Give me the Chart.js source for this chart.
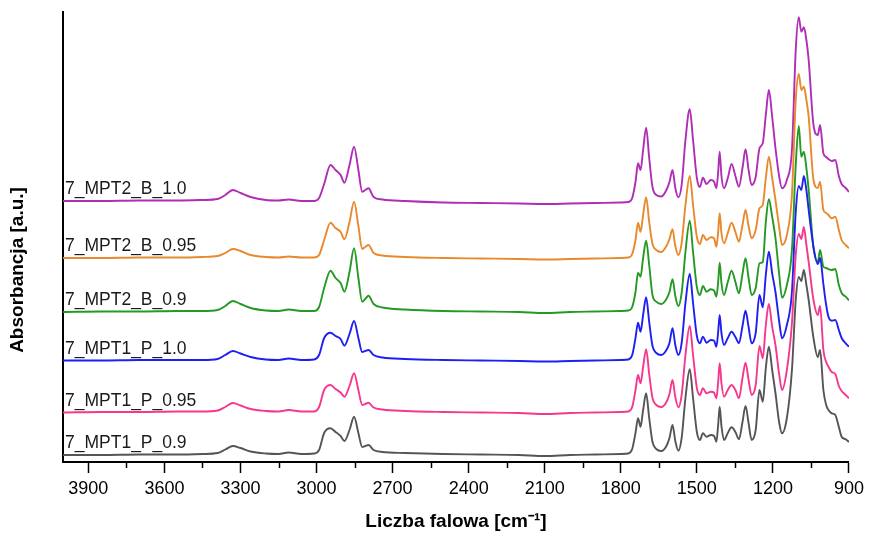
<!DOCTYPE html>
<html>
<head>
<meta charset="utf-8">
<script src="https://cdn.jsdelivr.net/npm/chart.js@4.4.1/dist/chart.umd.min.js"></script>
<style>
html,body{margin:0;padding:0;background:#fff;}
#wrap{width:869px;height:534px;}
</style>
</head>
<body>
<div id="wrap"><canvas id="c" width="869" height="534"></canvas></div>
<script>
// Wavenumber grid (cm-1) at which the spectra were read
const wavenumbers = [4000,3850,3700,3550,3450,3390,3360,3330,3300,3260,3200,3150,3110,3060,3010,2990,2970,2945,2925,2905,2890,2870,2852,2835,2820,2808,2795,2775,2740,2650,2500,2350,2200,2100,2000,1900,1800,1770,1755,1742,1732,1722,1712,1700,1688,1675,1660,1640,1620,1608,1596,1585,1573,1560,1545,1528,1515,1500,1488,1476,1462,1445,1432,1423,1416,1410,1403,1393,1378,1363,1348,1334,1320,1308,1296,1284,1268,1253,1240,1228,1216,1203,1190,1175,1164,1145,1125,1110,1098,1088,1078,1068,1059,1040,1023,1014,1001,990,981,968,954,940,929,913,900];

// Absorbance (a.u., offset-stacked) of each spectrum
const MPT2_B_10 = [261,261,261.5,261.5,262,263,267,272,269,265,262,261.5,262.5,261,261,264,278,297,292,287,279.3,297,315.3,292,270.3,272,273.7,265,262.5,261,259.5,259,258.5,258,258.5,259,259.5,260,264,280,298.7,292,312,334.3,304,275,267,265.5,272,280,292,274,264.7,277,322,352.7,322,284,275,284.3,278,282,280.3,273.7,290,310.3,286,273.7,284,298,286,275.3,294,312.7,292,277,285,313.7,319,347,372,345.3,314,285,273.7,282,312,412,444.7,430.3,434.7,422,402,337,327,337,308.7,305,303,301,302,286,278,274,270];
const MPT2_B_095 = [204,204,204.5,204.5,205,206,209,213,211,207,205,204.5,205.5,204.5,204.5,207,222,239.3,234,230,222.7,240,260.3,236,213,215,217,209,206.5,205,204,203.5,203,202.5,203,203.5,204,204.5,208,222,239.3,230.3,247,264.7,240,218,212,210,216,223,232.7,216,207,219,257,286,257,225,218,227,222,224.7,223.7,215.3,230,248.7,229,218.7,229,239.3,230,220.3,237,252,236,223.7,232,253.7,257,284,305.3,284,262,234,217,227,267,362,388,372,375.3,362,345.3,282,274,280.3,252,249,247,243.7,245.3,232,222,217,213.7];
const MPT2_B_09 = [150,150.5,150.5,151,151,152,156,161,158,154,151.5,151,152.5,151,151,155,174,191.3,184,179,170.3,190,213.7,184,160.3,163,166.3,158,154.5,152.5,151,150.5,150,149,150,150.5,151,151.5,155,170,189.3,185.3,204,221.3,197,167,160.3,158,163,170,182.7,166,156,169,210,241.3,210,175,167,176,170.3,172.7,171.3,165.3,180,199.3,179,167,180,191.3,180,168.7,188,203.7,184,167,174,198.7,200,240,262.7,245.3,224,187,164.3,177,212,297,336,305.3,310.3,294,272,214,200,212,195.3,194,193,192,193,177,169,165.3,161.5];
const MPT1_P_10 = [101.5,101.5,102,102,102,103,107,111,108.5,105,102.5,102,103.5,102,102.5,107,124,129.3,126,123,116.3,128,141,124,110,111,112,107,104.5,103,102,101.5,101,100.5,101,101.5,102,102.5,107,124,139.3,130.3,147,164.7,140,116,109,107,112,119,133.7,117,107,119,159,188,159,126,118.7,125.3,119.3,122,121.3,115.3,130,147,129,117,124,130.3,125,118.7,136,151.3,135,118.7,129,167,154.7,187,210.3,188.7,170,140,123.7,137,170,250,276,272,286,272,252,215,198,204,178,157,145.3,141.3,142,132,124,118.7,115.3];
const MPT1_P_095 = [49.5,50,50,50.5,50.5,51.5,55,59,56.5,53,51,50.5,52,50.5,50.5,55,72,77,73,69.5,65.3,76,88.7,72,57,58,59.3,54.5,52.5,51,50,49.5,49,48,49,49.5,50,50.5,55,72,87,78.7,95,112.7,88,64,57,55,60,68,82,65,54.7,67,107,136,107,74,67,73.7,68.7,70.3,69.3,63.7,80,98.7,79,65.3,72,77,72,63.7,84,99.3,82,67,77,116,103.7,137,158,135.3,117,87,72,92,139,207,228,223,235,217,200,162,147,156,112,100,95.3,90,88,76,71,67,63.7];
const MPT1_P_09 = [7,7,7.5,7.5,8,9,12.5,16,14,10.5,8.5,8,9.5,8,8.5,12,29,33.7,30,26,21,32,45.3,29,15,16,17,12,10,9,8,7.5,7,6,7,7.5,8,8.5,13,29,43.7,35.3,52,68.7,44,20,13,11,16,24,37,21,11.3,24,64,92.7,64,30,22,28.7,25.3,27,26,20.3,37,55.3,36,22,29,34.7,30,22.7,40,56,39,22,32,72,60.3,94,115.3,92,69,39,28.7,44,92,162,185,181,192,177,162,124,105,112,72,57,52,48.7,47,35,25.3,22.7,20];

// Series names (top to bottom in the picture)
const seriesNames = ['7_MPT2_B_1.0','7_MPT2_B_0.95','7_MPT2_B_0.9','7_MPT1_P_1.0','7_MPT1_P_0.95','7_MPT1_P_0.9'];
const seriesValues = [MPT2_B_10, MPT2_B_095, MPT2_B_09, MPT1_P_10, MPT1_P_095, MPT1_P_09];

// Axis tick values
const xMajorTicks = [3900,3600,3300,3000,2700,2400,2100,1800,1500,1200,900];
const xMinorTicks = [3750,3450,3150,2850,2550,2250,1950,1650,1350,1050];

const seriesColors = ['#B02DB6','#E8892C','#249A24','#1F1FF2','#F5388E','#555555'];
const FONT = '"Liberation Sans", Arial, Helvetica, sans-serif';

const datasets = seriesNames.map((name, s) => ({
  label: name,
  data: wavenumbers.map((w, i) => ({x: w, y: seriesValues[s][i]})),
  borderColor: seriesColors[s],
  borderWidth: 1.9,
  pointRadius: 0,
  fill: false,
  cubicInterpolationMode: 'monotone'
})).reverse();

const overlay = {
  id: 'overlay',
  afterDraw(chart) {
    const {ctx, chartArea} = chart;
    const x = chart.scales.x, y = chart.scales.y;
    ctx.save();
    // minor ticks
    ctx.strokeStyle = '#000';
    ctx.lineWidth = 1.5;
    xMinorTicks.forEach(v => {
      const px = Math.round(x.getPixelForValue(v)) + 0.5;
      ctx.beginPath();
      ctx.moveTo(px, chartArea.bottom);
      ctx.lineTo(px, chartArea.bottom + 6);
      ctx.stroke();
    });
    // series labels
    ctx.font = '17.5px ' + FONT;
    ctx.fillStyle = '#1a1a1a';
    ctx.textAlign = 'left';
    ctx.textBaseline = 'alphabetic';
    chart.data.datasets.forEach(ds => {
      const py = y.getPixelForValue(ds.data[0].y);
      ctx.fillText(ds.label, chartArea.left + 2, py - 7);
    });
    // y title
    ctx.translate(18, 270);
    ctx.rotate(-Math.PI / 2);
    ctx.font = 'bold 19px ' + FONT;
    ctx.fillStyle = '#000';
    ctx.textAlign = 'center';
    ctx.textBaseline = 'middle';
    ctx.fillText('Absorbancja [a.u.]', 0, 0);
    ctx.restore();
  }
};

new Chart(document.getElementById('c'), {
  type: 'line',
  data: {datasets},
  options: {
    responsive: false,
    animation: false,
    devicePixelRatio: 1,
    layout: {padding: {left: 0, right: 18, top: 12, bottom: 0}},
    plugins: {legend: {display: false}, tooltip: {enabled: false}},
    scales: {
      x: {
        type: 'linear',
        reverse: true,
        min: 900,
        max: 4000,
        afterBuildTicks: s => { s.ticks = xMajorTicks.map(v => ({value: v})); },
        afterFit: s => { s.height = 72; },
        grid: {display: true, drawOnChartArea: false, drawTicks: true, tickLength: 11, tickWidth: 1.5, tickColor: '#000'},
        border: {display: true, color: '#000', width: 2},
        ticks: {color: '#000', font: {family: FONT, size: 18}, padding: 5, maxRotation: 0, autoSkip: false, callback: v => String(v)},
        title: {display: true, text: 'Liczba falowa [cm⁻¹]', color: '#000', font: {family: FONT, size: 19, weight: 'bold'}, padding: {top: 0, bottom: 1}}
      },
      y: {
        type: 'linear',
        min: 0,
        max: 450,
        afterFit: s => { s.width = 63; },
        grid: {display: false},
        border: {display: true, color: '#000', width: 2},
        ticks: {display: false}
      }
    }
  },
  plugins: [overlay]
});
</script>
</body>
</html>
